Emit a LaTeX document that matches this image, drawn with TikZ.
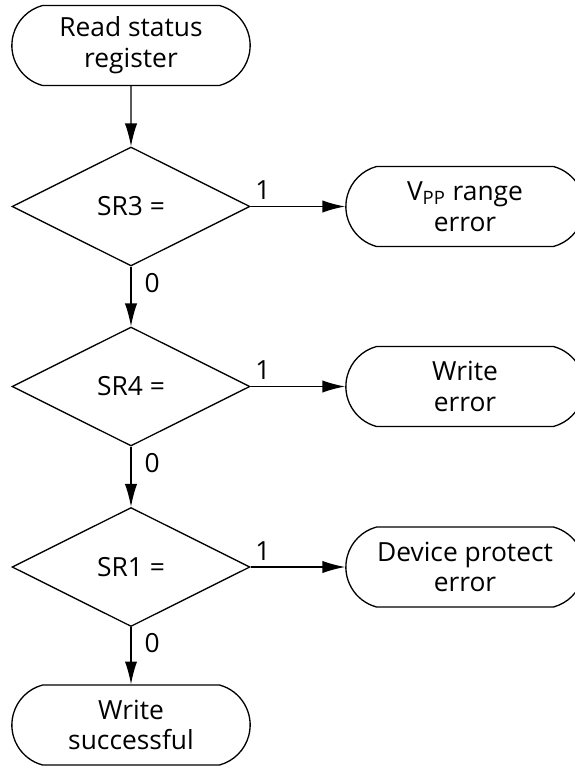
\documentclass[tikz,border=0pt]{standalone}
\usepackage{fontspec}
\setmainfont{Open Sans}
\usetikzlibrary{arrows, arrows.meta, shapes.geometric, shapes.misc, positioning}

\begin{document}
\begin{tikzpicture}[auto, node distance=3.6cm, >={Latex[length=13pt,width=7pt]}, font=\fontsize{15}{17.5}\selectfont]
% We define the styles for the blocks and the arrows
 \tikzset{
terminal/.style = {draw, rounded rectangle, rounded rectangle arc length=150, line width=0.75pt, minimum height=1.6cm, minimum width=5cm, align=center},
decision/.style = {draw, diamond, aspect=2, line width=0.75pt, minimum height=2.38cm, minimum width=4.76cm, inner sep=0pt},
line/.style = {draw, ->, line width=0.75pt},
}
 \useasboundingbox (-2.62,0.91) rectangle (8.86,-14.43);

 % Main column
 \node [terminal] (start) {Read status\\register};
 \node [decision, below of=start, node distance=3.22cm] (sr3) {SR3 =};
 \node [decision, below of=sr3] (sr4) {SR4 =};
 \node [decision, below of=sr4, node distance=3.61cm] (sr1) {SR1 =};
 \node [terminal, below of=sr1, node distance=3.16cm] (done) {Write\\successful};

 % Error exits
 \node [terminal, right of=sr3, node distance=6.68cm] (vpperr) {V\textsubscript{PP} range\\error};
 \node [terminal, right of=sr4, node distance=6.68cm] (writeerr) {Write\\error};
 \node [terminal, right of=sr1, node distance=6.68cm] (protecterr) {Device protect\\error};

 % Arrows and labels
 \draw [line] (start) -- (sr3);
 \draw [line] (sr3.east) -- (vpperr.west) node[pos=0.13, above] {1};
 \draw [line] (sr3.south) -- (sr4.north) node[pos=0.27, right=4pt] {0};
 \draw [line] (sr4.east) -- (writeerr.west) node[pos=0.13, above] {1};
 \draw [line] (sr4.south) -- (sr1.north) node[pos=0.27, right=4pt] {0};
 \draw [line] (sr1.east) -- (protecterr.west) node[pos=0.13, above] {1};
 \draw [line] (sr1.south) -- (done.north) node[pos=0.27, right=4pt] {0};

\end{tikzpicture}
\end{document}
